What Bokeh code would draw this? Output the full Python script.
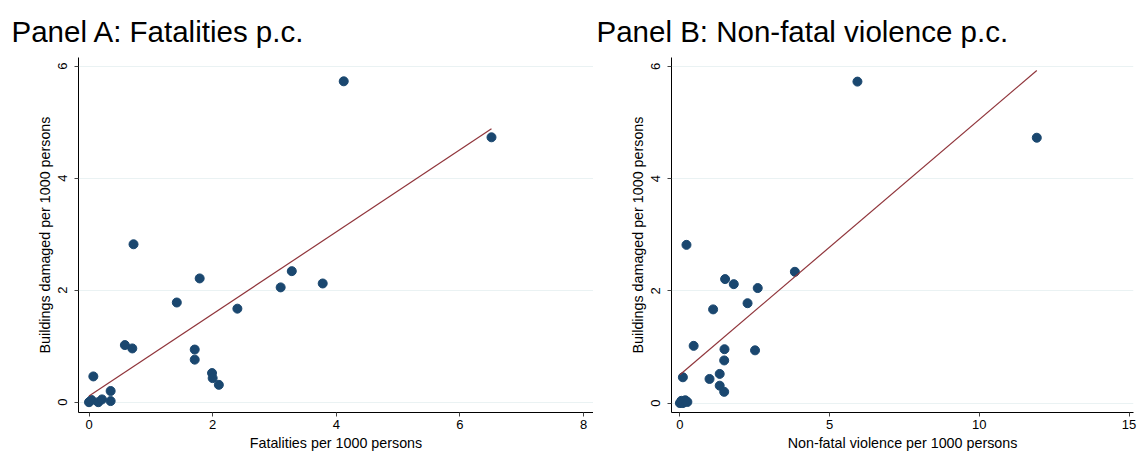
import numpy as np
from bokeh.plotting import figure
from bokeh.layouts import row
from bokeh.models import FixedTicker, Range1d
from bokeh.embed import file_html
from bokeh.resources import INLINE

# Buildings damaged per 1000 persons (same units in both panels)
buildings = [5.73, 4.73, 2.82, 2.34, 2.21, 2.12, 2.05, 1.78, 1.67, 1.02, 0.96,
             0.94, 0.76, 0.52, 0.43, 0.31, 0.20, 0.46, 0.00, 0.04, 0.00, 0.05, 0.02]
# Panel A: fatalities per 1000 persons
fatalities = [4.12, 6.51, 0.72, 3.28, 1.79, 3.78, 3.10, 1.42, 2.40, 0.58, 0.70,
              1.71, 1.71, 1.99, 2.00, 2.10, 0.35, 0.07, 0.00, 0.04, 0.15, 0.21, 0.35]
# Panel B: non-fatal violence per 1000 persons
nonfatal = [5.93, 11.92, 0.22, 3.84, 1.51, 1.80, 2.60, 2.26, 1.11, 0.46, 1.49,
            2.51, 1.48, 1.33, 0.99, 1.33, 1.48, 0.10, 0.00, 0.05, 0.10, 0.18, 0.25]

xticks_a = [0, 2, 4, 6, 8]
xticks_b = [0, 5, 10, 15]
yticks = [0, 2, 4, 6]

FONT = "Liberation Sans"
DOT = "#1a476f"
FIT = "#90353b"
GRID = "#eaf2f3"


def panel(x, y, title, xlabel, xticks, xr, yr, width, border_left, border_right, title_offset):
    p = figure(width=width, height=453, output_backend="svg", toolbar_location=None,
               x_range=Range1d(*xr), y_range=Range1d(*yr), title=title,
               min_border_left=border_left, min_border_right=border_right,
               min_border_top=57, min_border_bottom=41)
    p.outline_line_color = None
    p.background_fill_color = "white"
    p.border_fill_color = "white"

    p.title.text_font = FONT
    p.title.text_font_size = "29.5px"
    p.title.text_font_style = "normal"
    p.title.text_color = "black"
    p.title.align = "left"
    p.title.offset = title_offset
    p.title.standoff = 20

    p.xgrid.visible = False
    p.ygrid.ticker = FixedTicker(ticks=yticks)
    p.ygrid.grid_line_color = GRID
    p.ygrid.grid_line_width = 1

    p.xaxis.ticker = FixedTicker(ticks=xticks)
    p.yaxis.ticker = FixedTicker(ticks=yticks)
    p.yaxis.major_label_orientation = "vertical"
    for ax in (p.xaxis, p.yaxis):
        ax.axis_line_color = "black"
        ax.axis_line_width = 1
        ax.major_tick_line_color = "#444444"
        ax.major_tick_in = 0
        ax.major_tick_out = 4
        ax.minor_tick_line_color = None
        ax.major_label_text_font = FONT
        ax.major_label_text_font_size = "13px"
        ax.major_label_text_color = "black"
        ax.axis_label_text_font = FONT
        ax.axis_label_text_font_size = "14.3px"
        ax.axis_label_text_font_style = "normal"
        ax.axis_label_text_color = "black"
        ax.axis_label_standoff = 3
    p.xaxis.major_label_standoff = 3
    p.yaxis.major_label_standoff = 7
    p.xaxis.axis_label = xlabel
    p.yaxis.axis_label = "Buildings damaged per 1000 persons"

    p.scatter(x, y, size=9, fill_color=DOT, line_color=DOT)
    coef = np.polyfit(np.array(x), np.array(y), 1)
    xs = np.array([min(x), max(x)])
    p.line(xs, np.polyval(coef, xs), line_color=FIT, line_width=1.2)
    return p


pa = panel(fatalities, buildings, "Panel A: Fatalities p.c.", "Fatalities per 1000 persons",
           xticks_a, (-0.17, 8.16), (-0.184, 6.155), 593, 78, 0, -67)
pb = panel(nonfatal, buildings, "Panel B: Non-fatal violence p.c.", "Non-fatal violence per 1000 persons",
           xticks_b, (-0.28, 15.15), (-0.168, 6.16), 544, 78, 4, -75)

layout = row(pa, pb)
open("out.html", "w").write(file_html(layout, INLINE))
